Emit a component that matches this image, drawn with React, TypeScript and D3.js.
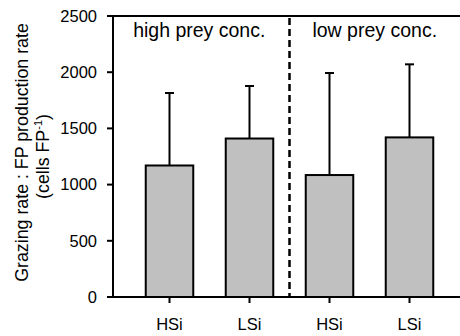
import { useEffect, useRef } from "react"
import * as d3 from "d3"

const categories = ["HSi", "LSi", "HSi", "LSi"]
const means = [1170, 1410, 1085, 1420]
const upperErrors = [645, 467, 908, 650]
const groups = ["high prey conc.", "low prey conc."]
const yTicks = [0, 500, 1000, 1500, 2000, 2500]

const W = 460
const H = 336
const FONT = "'Liberation Sans', Arial, sans-serif"

const App = () => {
  const ref = useRef<SVGSVGElement>(null)

  useEffect(() => {
    const svg = d3.select(ref.current)
    svg.selectAll("*").remove()

    const left = 113
    const right = W
    const top = 16
    const bottom = 297

    const y = d3.scaleLinear().domain([0, 2500]).range([bottom, top])
    const x = d3
      .scaleBand<number>()
      .domain(d3.range(categories.length))
      .range([129.5, 449.5])
      .paddingInner(0.406)
      .paddingOuter(0.203)

    // bars
    svg
      .append("g")
      .selectAll("rect")
      .data(means)
      .join("rect")
      .attr("x", (d, i) => x(i)!)
      .attr("y", (d) => y(d))
      .attr("width", x.bandwidth())
      .attr("height", (d) => y(0) - y(d))
      .attr("fill", "#c0c0c0")
      .attr("stroke", "#000")
      .attr("stroke-width", 2)

    // error bars (upper only)
    const err = svg.append("g").attr("stroke", "#000").attr("stroke-width", 2)
    means.forEach((m, i) => {
      const cx = x(i)! + x.bandwidth() / 2
      err
        .append("line")
        .attr("x1", cx)
        .attr("x2", cx)
        .attr("y1", y(m))
        .attr("y2", y(m + upperErrors[i]))
      err
        .append("line")
        .attr("x1", cx - 4.5)
        .attr("x2", cx + 4.5)
        .attr("y1", y(m + upperErrors[i]))
        .attr("y2", y(m + upperErrors[i]))
    })

    // dashed divider between the two prey concentrations
    const mid = (x(1)! + x.bandwidth() + x(2)!) / 2
    svg
      .append("line")
      .attr("x1", mid)
      .attr("x2", mid)
      .attr("y1", top + 2)
      .attr("y2", bottom)
      .attr("stroke", "#000")
      .attr("stroke-width", 2.5)
      .attr("stroke-dasharray", "7,4")

    // axes
    const axes = svg.append("g").attr("stroke", "#000").attr("stroke-width", 2)
    axes.append("line").attr("x1", left).attr("x2", left).attr("y1", top).attr("y2", bottom)
    axes.append("line").attr("x1", left - 6).attr("x2", right).attr("y1", top).attr("y2", top)
    axes.append("line").attr("x1", left - 6).attr("x2", right).attr("y1", bottom).attr("y2", bottom)

    axes
      .selectAll("line.ytick")
      .data(yTicks)
      .join("line")
      .attr("class", "ytick")
      .attr("x1", left - 6)
      .attr("x2", left)
      .attr("y1", (d) => y(d))
      .attr("y2", (d) => y(d))

    axes
      .selectAll("line.xtick")
      .data(categories)
      .join("line")
      .attr("class", "xtick")
      .attr("x1", (d, i) => x(i)! + x.bandwidth() / 2)
      .attr("x2", (d, i) => x(i)! + x.bandwidth() / 2)
      .attr("y1", bottom)
      .attr("y2", bottom + 6)

    svg
      .append("g")
      .selectAll("text")
      .data(yTicks)
      .join("text")
      .attr("x", left - 16)
      .attr("y", (d) => y(d))
      .attr("dy", "0.35em")
      .attr("text-anchor", "end")
      .attr("font-family", FONT)
      .attr("font-size", 16.5)
      .text((d) => d)

    svg
      .append("g")
      .selectAll("text")
      .data(categories)
      .join("text")
      .attr("x", (d, i) => x(i)! + x.bandwidth() / 2)
      .attr("y", 330)
      .attr("text-anchor", "middle")
      .attr("font-family", FONT)
      .attr("font-size", 16.5)
      .text((d) => d)

    // group labels
    svg
      .append("g")
      .selectAll("text")
      .data(groups)
      .join("text")
      .attr("x", (d, i) => (i === 0 ? (left + mid) / 2 - 2 : (mid + right) / 2))
      .attr("y", 36.5)
      .attr("text-anchor", "middle")
      .attr("font-family", FONT)
      .attr("font-size", 19.5)
      .text((d) => d)

    // y axis title
    const cy = (top + bottom) / 2
    const title = svg
      .append("text")
      .attr("transform", `translate(27.5, ${cy - 4}) rotate(-90)`)
      .attr("text-anchor", "middle")
      .attr("font-family", FONT)
      .attr("font-size", 17.8)
      .text("Grazing rate : FP production rate")
    title.lower()

    const sub = svg
      .append("text")
      .attr("transform", `translate(49, ${cy}) rotate(-90)`)
      .attr("text-anchor", "middle")
      .attr("font-family", FONT)
      .attr("font-size", 17.8)
    sub.append("tspan").text("(cells FP")
    sub.append("tspan").attr("dy", -7).attr("font-size", 11).text("-1")
    sub.append("tspan").attr("dy", 7).text(")")
  }, [])

  return (
    <svg
      ref={ref}
      width={W}
      height={H}
      viewBox={`0 0 ${W} ${H}`}
      style={{ position: "absolute", left: 0, top: 0, background: "#fff" }}
    />
  )
}

export default App
